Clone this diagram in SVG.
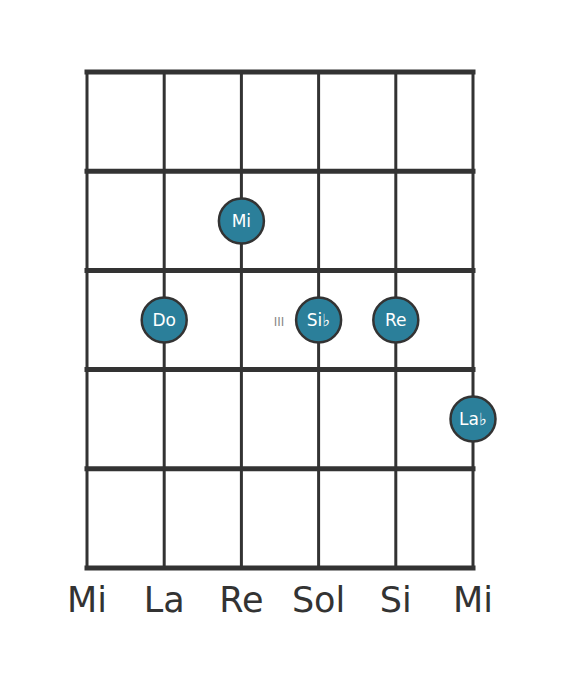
<svg xmlns="http://www.w3.org/2000/svg" width="568" height="682" viewBox="0 0 568 682">
<style>
.fret{stroke:#333;stroke-width:5;stroke-linecap:square}
.str{stroke:#333;stroke-width:3}
.dot circle{fill:#2b7f9a;stroke:#333;stroke-width:2.5}
.dot text{fill:#fff;font-family:"DejaVu Sans",sans-serif;font-size:17px;text-anchor:middle}
.lbl{fill:#333;font-family:"DejaVu Sans",sans-serif;font-size:35px;text-anchor:middle}
</style>
<rect width="568" height="682" fill="#fff"/>
<g id="connectors">
<line class="str" x1="87" y1="72" x2="87" y2="568"/>
<line class="str" x1="164.2" y1="72" x2="164.2" y2="568"/>
<line class="str" x1="241.4" y1="72" x2="241.4" y2="568"/>
<line class="str" x1="318.6" y1="72" x2="318.6" y2="568"/>
<line class="str" x1="395.8" y1="72" x2="395.8" y2="568"/>
<line class="str" x1="473" y1="72" x2="473" y2="568"/>
<line class="fret" x1="87" y1="72" x2="473" y2="72"/>
<line class="fret" x1="87" y1="171.2" x2="473" y2="171.2"/>
<line class="fret" x1="87" y1="270.4" x2="473" y2="270.4"/>
<line class="fret" x1="87" y1="369.6" x2="473" y2="369.6"/>
<line class="fret" x1="87" y1="468.8" x2="473" y2="468.8"/>
<line class="fret" x1="87" y1="568" x2="473" y2="568"/>
</g>
<text x="279" y="326" fill="#888" font-family="DejaVu Sans,sans-serif" font-size="12" text-anchor="middle">III</text>
<g id="n-mi" class="dot"><circle cx="241.4" cy="221" r="22.5"/><text x="241.4" y="227">Mi</text></g>
<g id="n-do" class="dot"><circle cx="164.2" cy="320" r="22.5"/><text x="164.2" y="326">Do</text></g>
<g id="n-sib" class="dot"><circle cx="318.6" cy="320" r="22.5"/><text x="318.6" y="326">Si♭</text></g>
<g id="n-re" class="dot"><circle cx="395.8" cy="320" r="22.5"/><text x="395.8" y="326">Re</text></g>
<g id="n-lab" class="dot"><circle cx="473" cy="419" r="22.5"/><text x="473" y="425">La♭</text></g>
<g id="labels">
<text class="lbl" x="87" y="612">Mi</text>
<text class="lbl" x="164.2" y="612">La</text>
<text class="lbl" x="241.4" y="612">Re</text>
<text class="lbl" x="318.6" y="612">Sol</text>
<text class="lbl" x="395.8" y="612">Si</text>
<text class="lbl" x="473" y="612">Mi</text>
</g>
</svg>
